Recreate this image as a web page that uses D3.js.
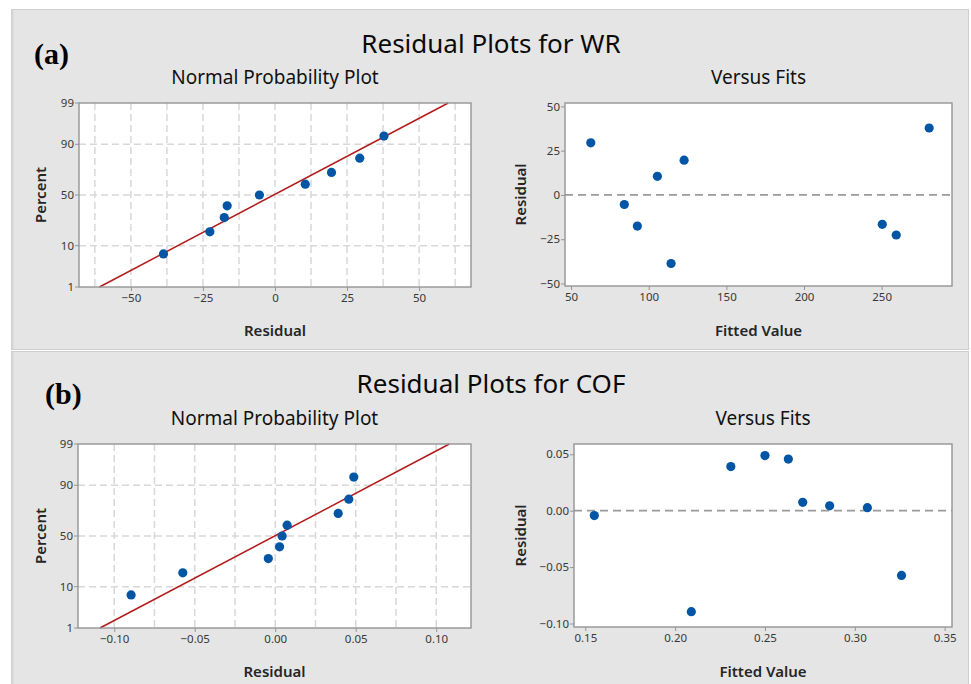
<!DOCTYPE html>
<html>
<head>
<meta charset="utf-8">
<script src="https://cdn.jsdelivr.net/npm/d3@7"></script>
<style>
  html, body { margin: 0; padding: 0; background: #ffffff; }
  svg { display: block; }
  text { font-family: "Noto Sans", "Open Sans", sans-serif; }
</style>
</head>
<body>
<svg id="chart" width="971" height="684"></svg>
<script>
// ---- Data -------------------------------------------------------------
// Wear rate (WR) model: fitted values and residuals, in run order
const wrFits = [62.7, 84.3, 92.7, 105.6, 114.4, 122.8, 250.4, 259.4, 280.6];
const wrResiduals = [29.4, -5.4, -17.6, 10.5, -38.7, 19.6, -16.6, -22.6, 37.8];

// Coefficient of friction (COF) model: fitted values and residuals
const cofFits = [0.155, 0.209, 0.231, 0.250, 0.263, 0.271, 0.286, 0.307, 0.326];
const cofResiduals = [-0.0043, -0.0895, 0.0391, 0.0488, 0.0457, 0.0074, 0.0043, 0.0027, -0.0574];

// Plotting positions (percent) of the ordered residuals
const plotPercents = [6.8, 17.6, 28.4, 39.2, 50, 60.8, 71.6, 82.4, 93.2];

// Tick values
const percentTicks = [1, 10, 50, 90, 99];
const percentGrid = [10, 50, 90];
const wrResidTicks = [-50, -25, 0, 25, 50];
const wrResidGrid = [-62.5, -50, -37.5, -25, -12.5, 0, 12.5, 25, 37.5, 50, 62.5];
const wrFitTicks = [50, 100, 150, 200, 250];
const wrFitResidTicks = [-50, -25, 0, 25, 50];
const cofResidTicks = [-0.10, -0.05, 0.00, 0.05, 0.10];
const cofResidGrid = [-0.100, -0.075, -0.050, -0.025, 0, 0.025, 0.050, 0.075, 0.100];
const cofFitTicks = [0.15, 0.20, 0.25, 0.30, 0.35];
const cofFitResidTicks = [-0.10, -0.05, 0.00, 0.05];

// ---- Styling ----------------------------------------------------------
const PANEL_BG = "#e5e5e5";
const DOT = "#0055a5";
const FIT_LINE = "#b31b1b";
const GRID = "#d8d8d8";
const FRAME = "#959595";
const TICK_TEXT = "#383838";

// Inverse standard normal CDF (Acklam's rational approximation)
function qnorm(p) {
  const a = [-3.969683028665376e+01, 2.209460984245205e+02, -2.759285104469687e+02,
             1.383577518672690e+02, -3.066479806614716e+01, 2.506628277459239e+00];
  const b = [-5.447609879822406e+01, 1.615858368580409e+02, -1.556989798598866e+02,
             6.680131188771972e+01, -1.328068155288572e+01];
  const c = [-7.784894002430293e-03, -3.223964580411365e-01, -2.400758277161838e+00,
             -2.549732539343734e+00, 4.374664141464968e+00, 2.938163982698783e+00];
  const d = [7.784695709041462e-03, 3.224671290700398e-01, 2.445134137142996e+00,
             3.754408661907416e+00];
  const pl = 0.02425, ph = 1 - pl;
  let q, r;
  if (p < pl) {
    q = Math.sqrt(-2 * Math.log(p));
    return (((((c[0]*q+c[1])*q+c[2])*q+c[3])*q+c[4])*q+c[5]) /
           ((((d[0]*q+d[1])*q+d[2])*q+d[3])*q+1);
  } else if (p <= ph) {
    q = p - 0.5; r = q * q;
    return (((((a[0]*r+a[1])*r+a[2])*r+a[3])*r+a[4])*r+a[5])*q /
           (((((b[0]*r+b[1])*r+b[2])*r+b[3])*r+b[4])*r+1);
  } else {
    q = Math.sqrt(-2 * Math.log(1 - p));
    return -(((((c[0]*q+c[1])*q+c[2])*q+c[3])*q+c[4])*q+c[5]) /
            ((((d[0]*q+d[1])*q+d[2])*q+d[3])*q+1);
  }
}

const svg = d3.select("#chart");

// ---- Helpers ------------------------------------------------------------
function frame(g, x0, y0, x1, y1) {
  g.append("rect")
    .attr("x", x0).attr("y", y0)
    .attr("width", x1 - x0).attr("height", y1 - y0)
    .attr("fill", "#ffffff");
}
function border(g, x0, y0, x1, y1) {
  g.append("rect")
    .attr("x", x0).attr("y", y0)
    .attr("width", x1 - x0).attr("height", y1 - y0)
    .attr("fill", "none").attr("stroke", FRAME).attr("stroke-width", 1.4);
}
function styleAxis(sel) {
  sel.select(".domain").remove();
  sel.selectAll(".tick line").attr("stroke", FRAME).attr("stroke-width", 1);
  sel.selectAll(".tick text")
    .attr("fill", TICK_TEXT)
    .style("font-size", "11.5px")
    .style("font-family", "'Noto Sans', 'Open Sans', sans-serif");
}
function axisTitle(g, text, x, y, rotate) {
  const t = g.append("text")
    .attr("text-anchor", "middle")
    .attr("fill", "#262626")
    .style("font-size", "15px")
    .style("font-weight", "600")
    .text(text);
  if (rotate) t.attr("transform", `translate(${x},${y}) rotate(-90)`);
  else t.attr("x", x).attr("y", y);
}
function subTitle(g, text, x, y) {
  g.append("text")
    .attr("x", x).attr("y", y)
    .attr("text-anchor", "middle")
    .attr("fill", "#111")
    .style("font-size", "19px")
    .text(text);
}

// Normal probability plot of residuals
function normalPlot(g, cfg) {
  const { x0, x1, y0, y1 } = cfg.box;
  const x = d3.scaleLinear().domain(cfg.xDomain).range([x0, x1]);
  const z = d3.scaleLinear().domain([qnorm(0.01), qnorm(0.99)]).range([y1, y0]);
  const yOf = p => z(qnorm(p / 100));

  frame(g, x0, y0, x1, y1);

  const grid = g.append("g")
    .attr("stroke", GRID).attr("stroke-width", 1.5).attr("stroke-dasharray", "7,4");
  grid.selectAll("line.v").data(cfg.xGrid).join("line")
    .attr("x1", d => x(d)).attr("x2", d => x(d))
    .attr("y1", y0).attr("y2", y1);
  grid.selectAll("line.h").data(percentGrid).join("line")
    .attr("x1", x0).attr("x2", x1)
    .attr("y1", d => yOf(d)).attr("y2", d => yOf(d));

  // Fitted normal line: mean ± z·sd of the residuals
  const mean = d3.mean(cfg.residuals);
  const sd = d3.deviation(cfg.residuals);
  const zLo = qnorm(0.01), zHi = qnorm(0.99);
  g.append("line")
    .attr("x1", x(mean + zLo * sd)).attr("y1", z(zLo))
    .attr("x2", x(mean + zHi * sd)).attr("y2", z(zHi))
    .attr("stroke", FIT_LINE).attr("stroke-width", 1.5);

  const sorted = cfg.residuals.slice().sort(d3.ascending);
  g.selectAll("circle.pt").data(sorted).join("circle")
    .attr("cx", d => x(d))
    .attr("cy", (d, i) => yOf(plotPercents[i]))
    .attr("r", 4.6)
    .attr("fill", DOT);

  border(g, x0, y0, x1, y1);

  const xa = g.append("g").attr("transform", `translate(0,${y1})`)
    .call(d3.axisBottom(x).tickValues(cfg.xTicks).tickFormat(cfg.xFormat).tickSizeOuter(0).tickSize(4).tickPadding(3));
  styleAxis(xa);
  const yt = g.append("g");
  yt.selectAll("line").data(percentTicks).join("line")
    .attr("x1", x0 - 4).attr("x2", x0)
    .attr("y1", d => yOf(d)).attr("y2", d => yOf(d))
    .attr("stroke", FRAME);
  yt.selectAll("text").data(percentTicks).join("text")
    .attr("x", x0 - 5).attr("y", d => yOf(d)).attr("dy", "0.34em")
    .attr("text-anchor", "end").attr("fill", TICK_TEXT)
    .style("font-size", "11.5px")
    .text(d => d);

  subTitle(g, "Normal Probability Plot", (x0 + x1) / 2, cfg.subY);
  axisTitle(g, "Residual", (x0 + x1) / 2, cfg.xLabelY);
  axisTitle(g, "Percent", 46, (y0 + y1) / 2, true);
}

// Residuals versus fitted values
function fitsPlot(g, cfg) {
  const { x0, x1, y0, y1 } = cfg.box;
  const x = d3.scaleLinear().domain(cfg.xDomain).range([x0, x1]);
  const y = d3.scaleLinear().domain(cfg.yDomain).range([y1, y0]);

  frame(g, x0, y0, x1, y1);

  g.append("line")
    .attr("x1", x0).attr("x2", x1)
    .attr("y1", y(0)).attr("y2", y(0))
    .attr("stroke", "#9a9a9a").attr("stroke-width", 1.8)
    .attr("stroke-dasharray", "8,5");

  g.selectAll("circle.pt").data(cfg.fits).join("circle")
    .attr("cx", d => x(d))
    .attr("cy", (d, i) => y(cfg.residuals[i]))
    .attr("r", 4.6)
    .attr("fill", DOT);

  border(g, x0, y0, x1, y1);

  const xa = g.append("g").attr("transform", `translate(0,${y1})`)
    .call(d3.axisBottom(x).tickValues(cfg.xTicks).tickFormat(cfg.xFormat).tickSizeOuter(0).tickSize(4).tickPadding(3));
  styleAxis(xa);
  const ya = g.append("g").attr("transform", `translate(${x0},0)`)
    .call(d3.axisLeft(y).tickValues(cfg.yTicks).tickFormat(cfg.yFormat).tickSizeOuter(0).tickSize(4).tickPadding(1));
  styleAxis(ya);

  subTitle(g, "Versus Fits", (x0 + x1) / 2, cfg.subY);
  axisTitle(g, "Fitted Value", (x0 + x1) / 2, cfg.xLabelY);
  axisTitle(g, "Residual", cfg.yLabelX, (y0 + y1) / 2, true);
}

function panel(y0, y1, title, tag, titleY, tagX, tagY) {
  const g = svg.append("g");
  g.append("rect")
    .attr("x", 11.5).attr("y", y0 + 0.5)
    .attr("width", 957).attr("height", y1 - y0)
    .attr("fill", PANEL_BG).attr("stroke", "#cdcdcd").attr("stroke-width", 1);
  g.append("line")
    .attr("x1", 12.5).attr("x2", 12.5).attr("y1", y0 + 1).attr("y2", y1)
    .attr("stroke", "#d6d6d6").attr("stroke-width", 2);
  g.append("text")
    .attr("x", 491).attr("y", titleY)
    .attr("text-anchor", "middle").attr("fill", "#0a0a0a")
    .style("font-size", "26px")
    .text(title);
  g.append("text")
    .attr("x", tagX).attr("y", tagY)
    .attr("fill", "#000")
    .style("font-family", "'Liberation Serif', 'Times New Roman', serif")
    .style("font-weight", "bold")
    .style("font-size", "30px")
    .text(tag);
  return g;
}

// ---- (a) Wear rate ------------------------------------------------------
const gA = panel(9, 349, "Residual Plots for WR", "(a)", 53, 34, 64);
normalPlot(gA, {
  box: { x0: 79, x1: 471, y0: 103, y1: 287 },
  xDomain: [-68, 68],
  residuals: wrResiduals,
  xTicks: wrResidTicks,
  xGrid: wrResidGrid,
  xFormat: d3.format("d"),
  subY: 84, xLabelY: 336
});
fitsPlot(gA, {
  box: { x0: 565, x1: 952, y0: 103, y1: 286 },
  xDomain: [46.1, 295.3],
  yDomain: [-51.4, 51.9],
  fits: wrFits,
  residuals: wrResiduals,
  xTicks: wrFitTicks, yTicks: wrFitResidTicks,
  xFormat: d3.format("d"), yFormat: d3.format("d"),
  subY: 84, xLabelY: 336, yLabelX: 526
});

// ---- (b) Coefficient of friction ---------------------------------------
const gB = panel(351, 700, "Residual Plots for COF", "(b)", 393, 45, 404);
normalPlot(gB, {
  box: { x0: 78, x1: 471, y0: 444, y1: 628 },
  xDomain: [-0.1225, 0.1216],
  residuals: cofResiduals,
  xTicks: cofResidTicks,
  xGrid: cofResidGrid,
  xFormat: d3.format(".2f"),
  subY: 425, xLabelY: 677
});
fitsPlot(gB, {
  box: { x0: 574, x1: 952, y0: 444, y1: 627 },
  xDomain: [0.1437, 0.3541],
  yDomain: [-0.1031, 0.0591],
  fits: cofFits,
  residuals: cofResiduals,
  xTicks: cofFitTicks, yTicks: cofFitResidTicks,
  xFormat: d3.format(".2f"), yFormat: d3.format(".2f"),
  subY: 425, xLabelY: 677, yLabelX: 526
});
</script>
</body>
</html>
